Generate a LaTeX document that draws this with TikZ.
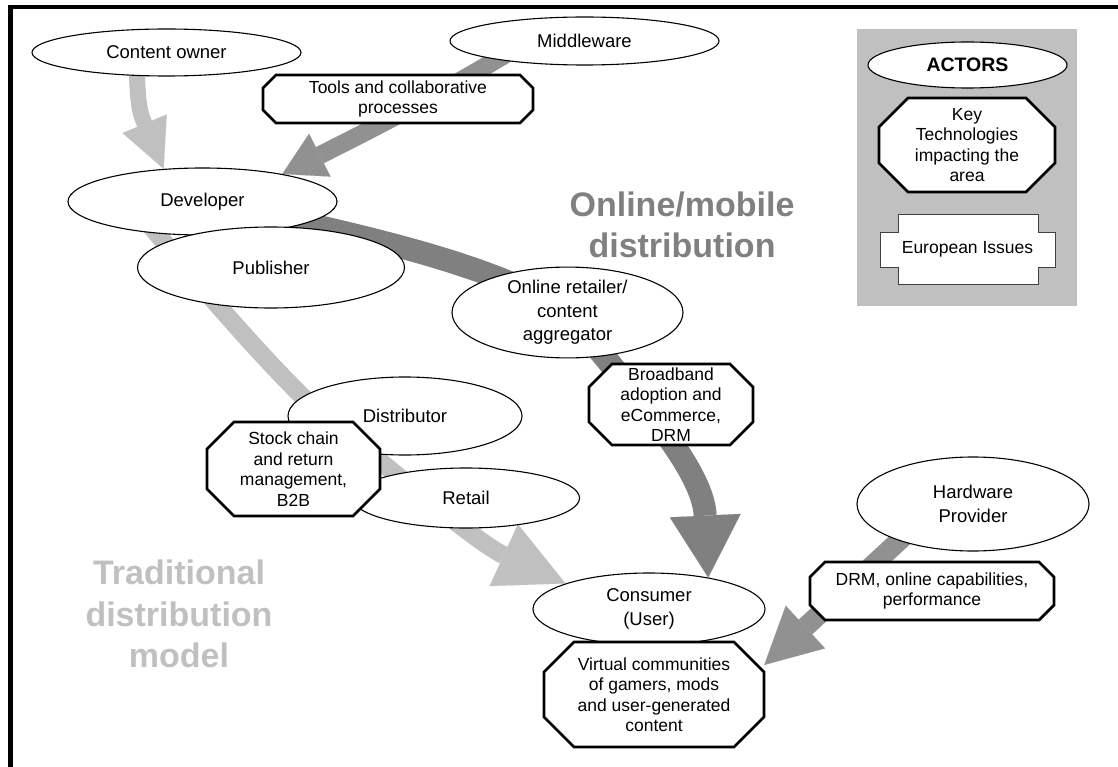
\documentclass[tikz,border=0pt]{standalone}
\usepackage{fontspec}
\setmainfont{Liberation Sans}
\usetikzlibrary{arrows.meta,shapes.geometric,backgrounds}

\definecolor{tradgray}{RGB}{192,192,192}
\definecolor{toolgray}{RGB}{145,145,145}
\definecolor{webgray}{RGB}{128,128,128}

% octagon behind a techbox: centre x, centre y, half width, half height, corner cut
\newcommand{\octpatch}[5]{%
  \filldraw[octline] (#1-#3+#5,#2-#4) -- (#1+#3-#5,#2-#4) -- (#1+#3,#2-#4+#5)
    -- (#1+#3,#2+#4-#5) -- (#1+#3-#5,#2+#4) -- (#1-#3+#5,#2+#4)
    -- (#1-#3,#2+#4-#5) -- (#1-#3,#2-#4+#5) -- cycle;}

\tikzset{
  actor/.style={ellipse, draw=black, line width=1.1pt, fill=white, inner sep=0pt,
    align=center, font=\fontsize{18.5}{23.5}\selectfont},
  techbox/.style={rectangle, inner sep=0pt, align=center,
    font=\fontsize{17.5}{20.5}\selectfont},
  octline/.style={draw=black, line width=2.8pt, fill=white},
  bigtitle/.style={inner sep=0pt, align=center, font=\bfseries\fontsize{34}{41.5}\selectfont},
  tradflow/.style={tradgray, line width=18pt},
  toolflow/.style={toolgray, line width=18pt},
  webflow/.style={webgray, line width=23pt}
}

\begin{document}
\begin{tikzpicture}[x=1pt, y=-1pt]
\useasboundingbox (0,0) rectangle (1118,767);
\begin{scope}
\clip (0,0) rectangle (1118,767);
\draw[line width=4.5pt] (10.5,800) -- (10.5,7) -- (1130,7);
\end{scope}

% legend
\fill[tradgray] (857,29) rectangle (1077,306);
\node[actor, minimum width=199pt, minimum height=46pt,
  font=\bfseries\fontsize{19.5}{22}\selectfont] (actors) at (967.5,65) {ACTORS};
\octpatch{967}{145}{88}{47}{29}
\node[techbox, minimum width=176pt, minimum height=94pt] (keytech) at (967,145)
  {Key\\Technologies\\impacting the\\area};
\filldraw[draw=black!75, line width=1pt, fill=white] (898,215) -- (1038,215) -- (1038,233)
  -- (1055,233) -- (1055,267) -- (1038,267) -- (1038,284) -- (898,284) -- (898,267)
  -- (880,267) -- (880,233) -- (898,233) -- cycle;
\node[techbox] (euro) at (967.5,249.5) {European Issues};

% actors and key technologies
\node[actor, minimum width=269pt, minimum height=47pt] (content) at (166.5,52.5) {Content owner};
\node[actor, minimum width=269pt, minimum height=48pt] (middle) at (584.5,41) {Middleware};
\octpatch{398}{99}{135}{24}{13}
\node[techbox, minimum width=270pt, minimum height=48pt] (tools) at (398,99)
  {Tools and collaborative\\processes};
\node[actor, minimum width=269pt, minimum height=67pt] (dev) at (202.5,201.5) {Developer};
\node[actor, minimum width=267pt, minimum height=81pt] (pub) at (271,267.5) {Publisher};
\node[actor, minimum width=231pt, minimum height=81pt] (online) at (567.5,312.5)
  {Online retailer/\\content\\aggregator};
\octpatch{671}{404.5}{82}{40.5}{23}
\node[techbox, minimum width=164pt, minimum height=81pt] (bband) at (671,404.5)
  {Broadband\\adoption and\\eCommerce,\\DRM};
\node[actor, minimum width=234pt, minimum height=78pt] (dist) at (405,416) {Distributor};
\node[actor, minimum width=227pt, minimum height=60pt] (retail) at (466,498) {Retail};
\octpatch{293.5}{469}{86.5}{47}{27}
\node[techbox, minimum width=173pt, minimum height=94pt] (stock) at (293.5,469)
  {Stock chain\\and return\\management,\\B2B};
\node[actor, minimum width=232pt, minimum height=72pt] (consumer) at (649,609) {Consumer\\(User)};
\octpatch{654}{694.5}{110}{52.5}{30}
\node[techbox, minimum width=220pt, minimum height=105pt] (virtual) at (654,694.5)
  {Virtual communities\\of gamers, mods\\and user-generated\\content};
\node[actor, minimum width=232pt, minimum height=94pt] (hw) at (973,504) {Hardware\\Provider};
\octpatch{932}{591}{122}{29}{15}
\node[techbox, minimum width=244pt, minimum height=58pt] (drm) at (932,591)
  {DRM, online capabilities,\\performance};

\node[bigtitle, text=webgray] (weblabel) at (682,225) {Online/mobile\\distribution};
\node[bigtitle, text=tradgray] (tradlabel) at (179,614) {Traditional\\distribution\\model};

\begin{pgfonlayer}{background}
\coordinate (tradbend) at (303,397);
\draw[tradflow, line width=16pt, -{Triangle[length=49pt,width=48pt,line width=0.1pt]}]
  ([xshift=-30pt]content.center) .. controls (137,110) and (141,115) .. (dev.140);
\draw[toolflow, -{Triangle[length=42pt,width=48pt,line width=0.1pt]}]
  ([shift={(-75,11)}]middle.center) .. controls (430,100) and (360,135) .. (dev.19);
\draw[webflow, -{Triangle[length=62pt,width=71pt,line width=0.1pt]}]
  (dev.center) .. controls (380,238) and (500,268) .. (online.center)
  .. controls (640,400) and (703,470) .. (consumer.28);
\draw[tradflow, -{Triangle[length=68pt,width=68pt,line width=0.1pt]}]
  ([shift={(-19,-23)}]dev.215) .. controls (180,262) and (250,345) .. (tradbend)
  .. controls (363,447) and (475,542) .. (consumer.163);
\draw[toolflow, line width=20pt, -{Triangle[length=56pt,width=58pt,line width=0.1pt]}]
  ([xshift=-34pt]hw.center) -- (virtual.15);
\end{pgfonlayer}
\end{tikzpicture}
\end{document}
